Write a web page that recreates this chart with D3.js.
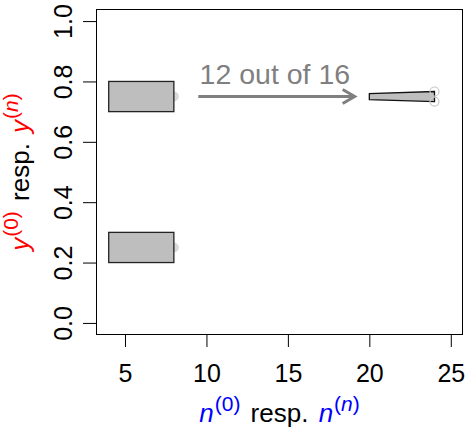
<!DOCTYPE html>
<html>
<head>
<meta charset="utf-8">
<script src="https://cdn.jsdelivr.net/npm/d3@7"></script>
<style>
  body { margin: 0; background: #fff; }
  svg { display: block; font-family: "Liberation Sans", Arial, Helvetica, sans-serif; }
</style>
</head>
<body>
<div id="chart"></div>
<script>
// prior sets: n^(0) range and y^(0) ranges
const priorN = [4, 8];
const priorY = [[0.7, 0.8], [0.2, 0.3]];
// midpoints of the prior y ranges drawn as points at n = 8
const priorPointN = [8, 8];
const priorPointY = [0.75, 0.25];
// posterior set (corners)
const postN = [20, 20, 24, 24];
const postY = [0.74, 0.76, 0.7667, 0.7333];
// posterior points at n = 24
const postPointN = [24, 24];
const postPointY = [0.7333, 0.7667];
// arrow and its label
const arrowN = [9.5, 19.1];
const arrowY = 0.75;
const arrowLabel = "12 out of 16";
const labelPos = [14.2, 0.825];
// ticks
const xTicks = [5, 10, 15, 20, 25];
const yTicks = [0, 0.2, 0.4, 0.6, 0.8, 1.0];

const W = 466, H = 430;
const margin = { top: 9, right: 3, bottom: 95, left: 96 };

const svg = d3.select("#chart").append("svg")
    .attr("width", W)
    .attr("height", H);

const x = d3.scaleLinear().domain([3.22, 25.75]).range([margin.left, W - margin.right]);
const y = d3.scaleLinear().domain([-0.04, 1.04]).range([H - margin.bottom, margin.top]);

// prior points (behind the rectangles)
svg.selectAll(".ppt")
    .data(priorPointN.map((n, i) => [n, priorPointY[i]]))
    .join("circle")
    .attr("cx", d => x(d[0]))
    .attr("cy", d => y(d[1]))
    .attr("r", 5)
    .attr("fill", "#d9d9d9");

// prior rectangles
svg.selectAll(".prior")
    .data(priorY)
    .join("rect")
    .attr("x", x(priorN[0]))
    .attr("width", x(priorN[1]) - x(priorN[0]))
    .attr("y", d => y(d[1]))
    .attr("height", d => y(d[0]) - y(d[1]))
    .attr("fill", "#bebebe")
    .attr("stroke", "#222")
    .attr("stroke-width", 1.3);

// posterior polygon
svg.append("path")
    .attr("d", d3.line().x(d => x(d[0])).y(d => y(d[1]))(postN.map((n, i) => [n, postY[i]])) + "Z")
    .attr("fill", "#bebebe")
    .attr("stroke", "#111")
    .attr("stroke-width", 1.3);

// posterior points (open circles)
svg.selectAll(".qpt")
    .data(postPointN.map((n, i) => [n, postPointY[i]]))
    .join("circle")
    .attr("cx", d => x(d[0]))
    .attr("cy", d => y(d[1]))
    .attr("r", 4.5)
    .attr("fill", "none")
    .attr("stroke", "#c8c8c8")
    .attr("stroke-width", 1.2);

// arrow
const ax0 = x(arrowN[0]), ax1 = x(arrowN[1]), ay = y(arrowY);
svg.append("line")
    .attr("x1", ax0).attr("x2", ax1)
    .attr("y1", ay).attr("y2", ay)
    .attr("stroke", "#7f7f7f")
    .attr("stroke-width", 3);
svg.append("path")
    .attr("d", `M${ax1 - 12},${ay - 7}L${ax1},${ay}L${ax1 - 12},${ay + 7}`)
    .attr("fill", "none")
    .attr("stroke", "#7f7f7f")
    .attr("stroke-width", 3);

svg.append("text")
    .attr("x", x(labelPos[0]))
    .attr("y", y(labelPos[1]))
    .attr("dy", "0.36em")
    .attr("text-anchor", "middle")
    .attr("fill", "#7f7f7f")
    .style("font-size", "28.5px")
    .text(arrowLabel);

// box
svg.append("rect")
    .attr("x", margin.left + 0.5)
    .attr("y", margin.top + 0.5)
    .attr("width", W - margin.left - margin.right - 1)
    .attr("height", H - margin.top - margin.bottom - 1)
    .attr("fill", "none")
    .attr("stroke", "#000")
    .attr("stroke-width", 1);

// x axis
const xAxis = svg.append("g")
    .attr("transform", `translate(0,${H - margin.bottom})`)
    .call(d3.axisBottom(x).tickValues(xTicks).tickSize(12).tickSizeOuter(0));
xAxis.select(".domain").remove();
xAxis.selectAll("line").attr("stroke", "#000");
xAxis.selectAll("text")
    .attr("y", 47).attr("dy", null)
    .attr("fill", "#000")
    .style("font-size", "25px")
    .style("font-family", "inherit");

// y axis
const yAxis = svg.append("g")
    .attr("transform", `translate(${margin.left},0)`)
    .call(d3.axisLeft(y).tickValues(yTicks).tickFormat(d3.format(".1f")).tickSize(13).tickSizeOuter(0));
yAxis.select(".domain").remove();
yAxis.selectAll("line").attr("stroke", "#000");
yAxis.selectAll("text")
    .attr("x", null).attr("dy", null)
    .attr("transform", "translate(-24,0) rotate(-90)")
    .attr("text-anchor", "middle")
    .attr("fill", "#000")
    .style("font-size", "25px")
    .style("font-family", "inherit");

// axis titles with superscripts
function title(g, sym, color) {
    const parts = [
        { t: sym, c: color, it: true },
        { t: "(", c: color, sup: true, dx: 1 },
        { t: "0", c: color, sup: true },
        { t: ")", c: color, sup: true },
        { t: " resp. ", c: "#000", dx: 3 },
        { t: sym, c: color, it: true, dx: 3 },
        { t: "(", c: color, sup: true, dx: 1 },
        { t: "n", c: color, sup: true, it: true },
        { t: ")", c: color, sup: true }
    ];
    const txt = g.append("text").attr("text-anchor", "middle").style("font-size", "26px");
    let raised = false;
    parts.forEach(p => {
        const ts = txt.append("tspan").attr("fill", p.c).text(p.t);
        if (p.dx) ts.attr("dx", p.dx);
        if (p.it) ts.style("font-style", "italic");
        if (p.sup) {
            ts.style("font-size", "21px");
            if (!raised) { ts.attr("dy", -11); raised = true; }
        } else if (raised) {
            ts.attr("dy", 11); raised = false;
        }
    });
    return txt;
}

const cx = (margin.left + W - margin.right) / 2;
const cy = (margin.top + H - margin.bottom) / 2;

title(svg.append("g").attr("transform", `translate(${cx},422)`), "n", "#0000ff");
title(svg.append("g").attr("transform", `translate(29,${cy}) rotate(-90)`), "y", "#ff0000");
</script>
</body>
</html>
